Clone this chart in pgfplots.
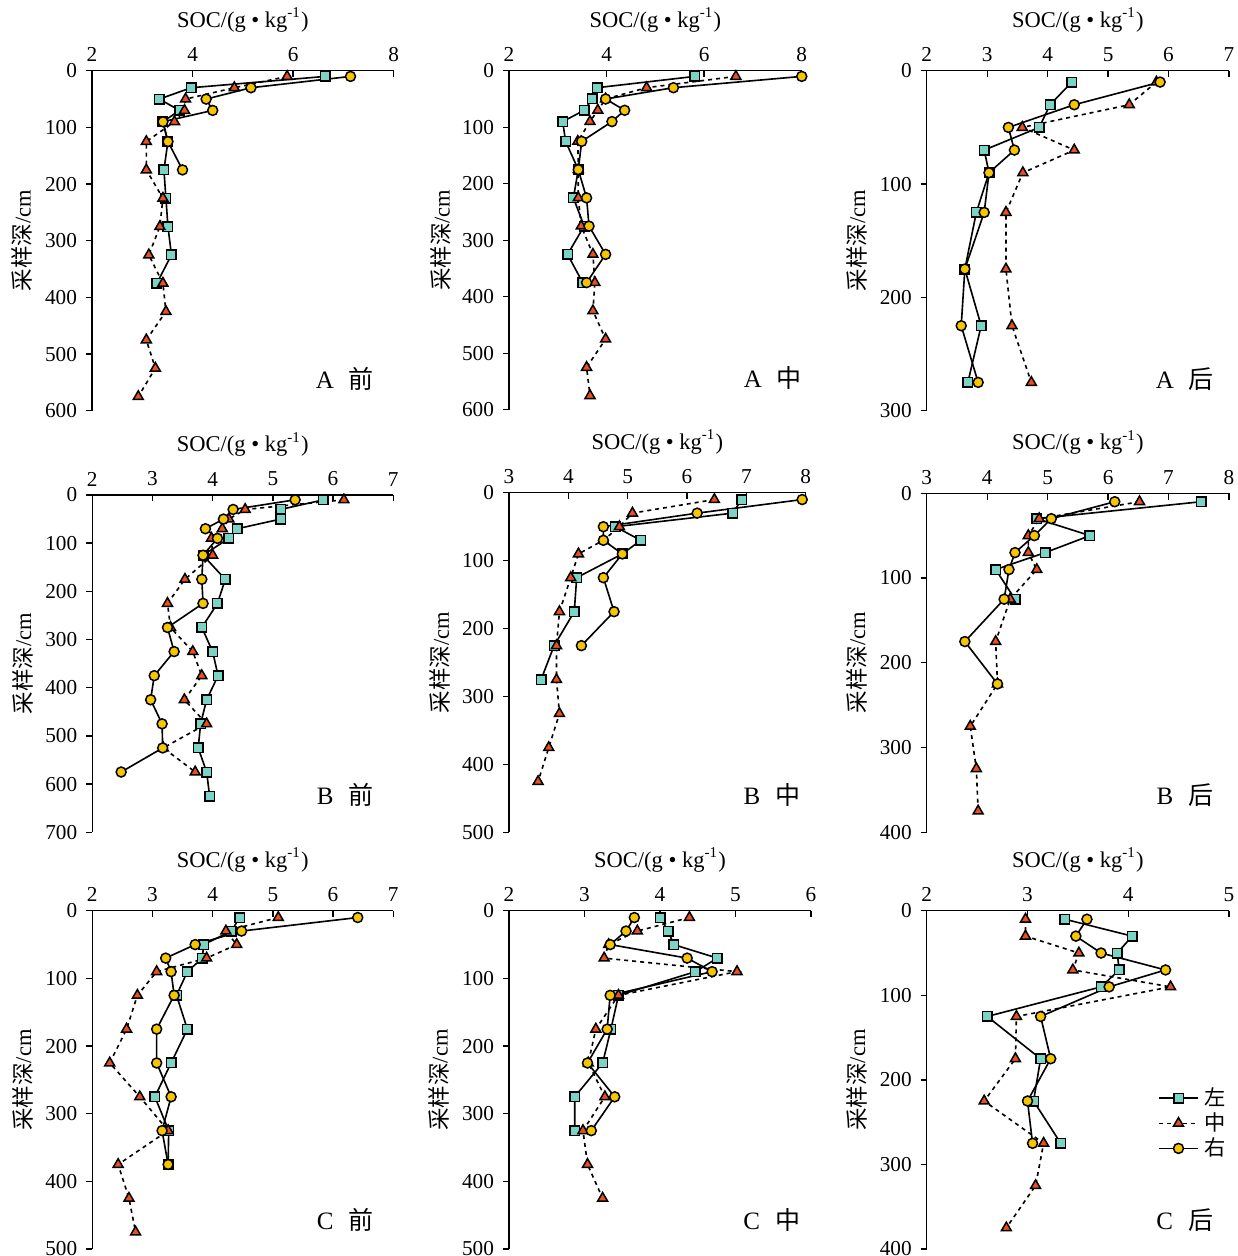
\documentclass[border=0pt]{standalone}
\usepackage{fontspec}
\setmainfont{Liberation Serif}
\newfontfamily\cjk{Noto Sans CJK SC}
\usepackage{pgfplots}
\pgfplotsset{compat=1.18}

\definecolor{sqfill}{RGB}{122,211,196}
\definecolor{trifill}{RGB}{232,80,30}
\definecolor{cifill}{RGB}{247,197,0}

\tikzset{tag/.style={font=\fontsize{10}{11}\selectfont, anchor=center}}

\pgfplotsset{
  panel/.style={
    scale only axis,
    anchor=north west,
    y dir=reverse,
    axis x line*=top,
    axis y line*=left,
    axis line style={line width=0.55pt},
    xtick align=inside,
    ytick align=outside,
    major tick length=2.5pt,
    tick style={line width=0.55pt, black},
    minor tick num=0,
    clip=false,
    /pgf/number format/assume math mode=true,
    tick label style={font=\fontsize{8.5}{9}\selectfont},
    xlabel={SOC/(g • kg\textsuperscript{-1})},
    xlabel style={font=\fontsize{9}{10}\selectfont, at={(axis description cs:0.5,1.15)}, anchor=center},
    ylabel={{\cjk 采样深}/cm},
    ylabel style={font=\fontsize{9}{10}\selectfont, at={(axis description cs:-0.232,0.5)}, anchor=center},
  },
  sL/.style={black, line width=0.65pt, mark=square*, mark size=1.9pt,
    mark options={fill=sqfill, draw=black, solid, line width=0.6pt}},
  sM/.style={black, line width=0.65pt, dash pattern=on 1.6pt off 1.6pt, mark=triangle*, mark size=2.3pt,
    mark options={fill=trifill, draw=black, solid, line width=0.6pt}},
  sR/.style={black, line width=0.65pt, mark=*, mark size=2pt,
    mark options={fill=cifill, draw=black, solid, line width=0.6pt}},
}

\begin{document}
\begin{tikzpicture}

% ---------- row A ----------
\begin{axis}[panel, at={(36.8pt,-28.3pt)}, width=120.7pt, height=136pt,
  xmin=2, xmax=8, xtick={2,4,6,8}, ymin=0, ymax=600, ytick={0,100,...,600}]
  \addplot[sL] coordinates {(6.64,10)(3.97,30)(3.34,50)(3.74,70)(3.41,90)(3.51,125)(3.43,175)(3.47,225)(3.51,275)(3.58,325)(3.29,375)};
  \addplot[sM] coordinates {(5.88,10)(4.83,30)(3.86,50)(3.84,70)(3.64,90)(3.08,125)(3.08,175)(3.41,225)(3.35,275)(3.13,325)(3.41,375)(3.47,425)(3.08,475)(3.26,525)(2.92,575)};
  \addplot[sR] coordinates {(7.14,10)(5.16,30)(4.27,50)(4.40,70)(3.41,90)(3.51,125)(3.80,175)};
  \node[tag] at (axis cs:7.03,544) {A\hspace{0.6em}{\cjk 前}};
\end{axis}

\begin{axis}[panel, at={(203.6pt,-28.3pt)}, width=117.1pt, height=135.6pt,
  xmin=2, xmax=8, xtick={2,4,6,8}, ymin=0, ymax=600, ytick={0,100,...,600}]
  \addplot[sL] coordinates {(5.81,10)(3.81,30)(3.71,50)(3.54,70)(3.10,90)(3.16,125)(3.42,175)(3.32,225)(3.54,275)(3.20,325)(3.51,375)};
  \addplot[sM] coordinates {(6.65,10)(4.82,30)(3.98,50)(3.82,70)(3.66,90)(3.41,125)(3.42,175)(3.42,225)(3.48,275)(3.72,325)(3.76,375)(3.72,425)(3.98,475)(3.59,525)(3.66,575)};
  \addplot[sR] coordinates {(8.0,10)(5.37,30)(3.98,50)(4.37,70)(4.11,90)(3.49,125)(3.42,175)(3.59,225)(3.64,275)(3.98,325)(3.59,375)};
  \node[tag] at (axis cs:7.41,544) {A\hspace{0.6em}{\cjk 中}};
\end{axis}

\begin{axis}[panel, at={(370.7pt,-28.3pt)}, width=120.9pt, height=136pt,
  xmin=2, xmax=7, xtick={2,...,7}, ymin=0, ymax=300, ytick={0,100,200,300}]
  \addplot[sL] coordinates {(4.40,10)(4.04,30)(3.86,50)(2.95,70)(3.03,90)(2.82,125)(2.63,175)(2.90,225)(2.68,275)};
  \addplot[sM] coordinates {(5.80,10)(5.35,30)(3.58,50)(4.44,70)(3.59,90)(3.31,125)(3.31,175)(3.41,225)(3.73,275)};
  \addplot[sR] coordinates {(5.86,10)(4.44,30)(3.35,50)(3.45,70)(3.03,90)(2.95,125)(2.63,175)(2.57,225)(2.85,275)};
  \node[tag] at (axis cs:6.27,272) {A\hspace{0.6em}{\cjk 后}};
\end{axis}

% ---------- row B ----------
\begin{axis}[panel, at={(36.9pt,-198pt)}, width=120.4pt, height=134.9pt,
  xmin=2, xmax=7, xtick={2,...,7}, ymin=0, ymax=700, ytick={0,100,...,700}]
  \addplot[sL] coordinates {(5.84,10)(5.13,30)(5.13,50)(4.41,70)(4.27,90)(3.84,125)(4.21,175)(4.08,225)(3.82,275)(4.00,325)(4.09,375)(3.90,425)(3.80,475)(3.76,525)(3.90,575)(3.95,625)};
  \addplot[sM] coordinates {(6.18,10)(4.54,30)(4.27,50)(4.16,70)(3.98,90)(4.00,125)(3.54,175)(3.25,225)(3.30,275)(3.67,325)(3.82,375)(3.53,425)(3.90,475)(3.18,525)(3.71,575)};
  \addplot[sR] coordinates {(5.37,10)(4.34,30)(4.18,50)(3.88,70)(4.08,90)(3.84,125)(3.82,175)(3.84,225)(3.25,275)(3.36,325)(3.03,375)(2.97,425)(3.16,475)(3.17,525)(2.48,575)};
  \node[tag] at (axis cs:6.20,623) {B\hspace{0.6em}{\cjk 前}};
\end{axis}

\begin{axis}[panel, at={(203.6pt,-197.1pt)}, width=118.7pt, height=135.9pt,
  xmin=3, xmax=8, xtick={3,...,8}, ymin=0, ymax=500, ytick={0,100,...,500}]
  \addplot[sL] coordinates {(6.92,10)(6.77,30)(4.79,50)(5.22,70)(4.91,90)(4.14,125)(4.10,175)(3.76,225)(3.54,275)};
  \addplot[sM] coordinates {(6.46,10)(5.08,30)(4.86,50)(4.59,70)(4.17,90)(4.04,125)(3.85,175)(3.80,225)(3.80,275)(3.85,325)(3.67,375)(3.49,425)};
  \addplot[sR] coordinates {(7.94,10)(6.17,30)(4.59,50)(4.59,70)(4.91,90)(4.59,125)(4.77,175)(4.22,225)};
  \node[tag] at (axis cs:7.43,445) {B\hspace{0.6em}{\cjk 中}};
\end{axis}

\begin{axis}[panel, at={(370.7pt,-197.3pt)}, width=120.9pt, height=135.6pt,
  xmin=3, xmax=8, xtick={3,...,8}, ymin=0, ymax=400, ytick={0,100,...,400}]
  \addplot[sL] coordinates {(7.54,10)(4.82,30)(5.70,50)(4.96,70)(4.14,90)(4.46,125)};
  \addplot[sM] coordinates {(6.52,10)(4.86,30)(4.68,50)(4.68,70)(4.82,90)(4.38,125)(4.14,175)(4.17,225)(3.72,275)(3.82,325)(3.85,375)};
  \addplot[sR] coordinates {(6.11,10)(5.06,30)(4.78,50)(4.46,70)(4.36,90)(4.28,125)(3.63,175)(4.17,225)};
  \node[tag] at (axis cs:7.27,356) {B\hspace{0.6em}{\cjk 后}};
\end{axis}

% ---------- row C ----------
\begin{axis}[panel, at={(36.9pt,-364.3pt)}, width=120.4pt, height=135.3pt,
  xmin=2, xmax=7, xtick={2,...,7}, ymin=0, ymax=500, ytick={0,100,...,500}]
  \addplot[sL] coordinates {(4.45,10)(4.31,30)(3.85,50)(3.83,70)(3.58,90)(3.40,125)(3.58,175)(3.31,225)(3.04,275)(3.27,325)(3.26,375)};
  \addplot[sM] coordinates {(5.09,10)(4.22,30)(4.40,50)(3.90,70)(3.07,90)(2.75,125)(2.57,175)(2.29,225)(2.79,275)(3.26,325)(2.43,375)(2.61,425)(2.72,475)};
  \addplot[sR] coordinates {(6.41,10)(4.48,30)(3.71,50)(3.22,70)(3.31,90)(3.36,125)(3.07,175)(3.07,225)(3.31,275)(3.16,325)(3.26,375)};
  \node[tag] at (axis cs:6.20,457) {C\hspace{0.6em}{\cjk 前}};
\end{axis}

\begin{axis}[panel, at={(203.6pt,-364.3pt)}, width=120.8pt, height=135.3pt,
  xmin=2, xmax=6, xtick={2,...,6}, ymin=0, ymax=500, ytick={0,100,...,500}]
  \addplot[sL] coordinates {(4.00,10)(4.11,30)(4.18,50)(4.76,70)(4.47,90)(3.45,125)(3.35,175)(3.24,225)(2.87,275)(2.87,325)};
  \addplot[sM] coordinates {(4.39,10)(3.70,30)(3.32,50)(3.26,70)(5.02,90)(3.45,125)(3.15,175)(3.05,225)(3.27,275)(2.98,325)(3.04,375)(3.24,425)};
  \addplot[sR] coordinates {(3.66,10)(3.55,30)(3.34,50)(4.36,70)(4.69,90)(3.34,125)(3.30,175)(3.04,225)(3.40,275)(3.09,325)};
  \node[tag] at (axis cs:5.48,457) {C\hspace{0.6em}{\cjk 中}};
\end{axis}

\begin{axis}[panel, at={(370.7pt,-364.3pt)}, width=120.9pt, height=135.3pt,
  xmin=2, xmax=5, xtick={2,...,5}, ymin=0, ymax=400, ytick={0,100,...,400},
  legend style={at={(axis description cs:0.765,0.494)}, anchor=north west, draw=none, fill=none,
    font=\cjk\fontsize{8.5}{9}\selectfont, row sep=-2.6pt, inner sep=0pt,
    nodes={inner xsep=2.5pt}},
  legend cell align=left,
  legend image code/.code={\draw[mark repeat=2,mark phase=2,#1] plot coordinates {(0cm,0cm) (0.27cm,0cm) (0.54cm,0cm)};}]
  \addplot[sL] coordinates {(3.37,10)(4.04,30)(3.89,50)(3.91,70)(3.73,90)(2.60,125)(3.13,175)(3.06,225)(3.33,275)};
  \addlegendentry{左}
  \addplot[sM] coordinates {(2.98,10)(2.98,30)(3.51,50)(3.45,70)(4.42,90)(2.89,125)(2.88,175)(2.57,225)(3.16,275)(3.08,325)(2.79,375)};
  \addlegendentry{中}
  \addplot[sR] coordinates {(3.59,10)(3.48,30)(3.73,50)(4.37,70)(3.81,90)(3.13,125)(3.23,175)(3.00,225)(3.05,275)};
  \addlegendentry{右}
  \node[tag] at (axis cs:4.56,366) {C\hspace{0.6em}{\cjk 后}};
\end{axis}

\pgfresetboundingbox
\path[use as bounding box] (0pt,0pt) rectangle (494.8pt,-502.4pt);
\end{tikzpicture}
\end{document}
